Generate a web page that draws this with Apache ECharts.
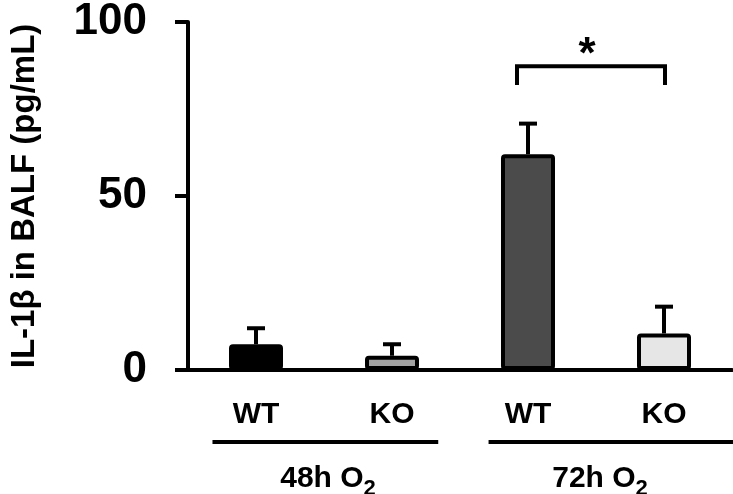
<!DOCTYPE html>
<html><head><meta charset="utf-8">
<script src="https://cdn.jsdelivr.net/npm/echarts@6/dist/echarts.min.js"></script>
<style>html,body{margin:0;padding:0;background:#fff}#c{width:733px;height:494px}</style>
</head><body><div id="c"></div>
<script>
// ---- data ----
const categories = ['WT', 'KO', 'WT', 'KO'];
const means = [7.4, 4.1, 62.0, 10.5];
const errors = [4.6, 3.3, 8.8, 7.7];
const barColors = ['#000000', '#a3a3a3', '#4b4b4b', '#e6e6e6'];
const groupStart = [0, 2];
const groupEnd = [1, 3];
const groupLabels = ['48h O', '72h O'];
const groupSub = ['2', '2'];
const sigFrom = 2, sigTo = 3, sigTop = 87.3, sigLeg = 81.9, sigMark = '*';
const yMin = 0, yMax = 100, yStep = 50;
const yTitle = 'IL-1β in BALF (pg/mL)';

const FONT = '"Liberation Sans", Arial, sans-serif';
const chart = echarts.init(document.getElementById('c'), null, {renderer: 'canvas'});

const option = {
  animation: false,
  backgroundColor: '#ffffff',
  grid: {left: 173, right: 1, top: 15, bottom: 124, containLabel: false},
  xAxis: {
    type: 'category',
    data: categories,
    axisLine: {lineStyle: {color: '#000', width: 4}},
    axisTick: {show: false},
    axisLabel: {color: '#000', fontSize: 30, fontWeight: 'bold', fontFamily: FONT, margin: 30}
  },
  yAxis: {
    type: 'value', min: yMin, max: yMax, interval: yStep,
    name: yTitle, nameLocation: 'middle', nameGap: 147,
    nameTextStyle: {color: '#000', fontSize: 33, fontWeight: 'bold', fontFamily: FONT},
    axisLine: {show: true, lineStyle: {color: '#000', width: 4}},
    axisTick: {show: true, length: 13, lineStyle: {color: '#000', width: 4}},
    axisLabel: {color: '#000', fontSize: 44, fontWeight: 'bold', fontFamily: FONT, margin: 41},
    splitLine: {show: false}
  },
  series: [
    {
      type: 'custom',
      z: 1,
      clip: false,
      encode: {x: 0, y: [1, 2]},
      data: means.map((m, i) => [i, m, m + errors[i]]),
      renderItem: function (params, api) {
        const top = api.coord([api.value(0), api.value(2)]);
        const base = api.coord([api.value(0), api.value(1)]);
        const st = {stroke: '#000', lineWidth: 4};
        return {type: 'group', children: [
          {type: 'line', shape: {x1: top[0], y1: base[1], x2: top[0], y2: top[1]}, style: st},
          {type: 'line', shape: {x1: top[0] - 9, y1: top[1], x2: top[0] + 9, y2: top[1]}, style: st}
        ]};
      }
    },
    {
      type: 'bar',
      z: 2,
      barWidth: 54,
      data: means.map((m, i) => ({value: m, itemStyle: {color: barColors[i]}})),
      itemStyle: {borderColor: '#000', borderWidth: 4, borderRadius: 2}
    },
    {
      type: 'custom',
      z: 3,
      clip: false,
      encode: {x: [0, 1], y: [2, 3]},
      data: [[sigFrom, sigTo, sigTop, sigLeg]],
      renderItem: function (params, api) {
        const a = api.coord([api.value(0), api.value(2)]);
        const b = api.coord([api.value(1), api.value(2)]);
        const leg = api.coord([api.value(0), api.value(3)]);
        const x1 = a[0] - 11, x2 = b[0] + 1;
        const st = {stroke: '#000', lineWidth: 4, fill: null, lineJoin: 'miter'};
        return {type: 'group', children: [
          {type: 'polyline', shape: {points: [[x1, leg[1]], [x1, a[1]], [x2, a[1]], [x2, leg[1]]]}, style: st},
          {type: 'text', style: {text: sigMark, x: (x1 + x2) / 2 - 4, y: a[1] - 10, align: 'center', verticalAlign: 'middle',
            fill: '#000', font: 'bold 44px ' + FONT}}
        ]};
      }
    },
    {
      type: 'custom',
      z: 3,
      clip: false,
      encode: {x: [0, 1], y: 2},
      data: groupStart.map((s, i) => [s, groupEnd[i], 0, i]),
      renderItem: function (params, api) {
        const i = api.value(3);
        const p1 = api.coord([api.value(0), 0]);
        const p2 = api.coord([api.value(1), 0]);
        const band = api.size([1, 0])[0];
        const x1 = p1[0] - band * (i === 0 ? 0.32 : 0.29);
        const x2 = p2[0] + band * (i === 0 ? 0.34 : 0.52);
        const y = p1[1] + 72;
        return {type: 'group', children: [
          {type: 'line', shape: {x1: x1, y1: y, x2: x2, y2: y}, style: {stroke: '#000', lineWidth: 4}},
          {type: 'text', style: {
            text: '{a|' + groupLabels[i] + '}{b|' + groupSub[i] + '}',
            x: (p1[0] + p2[0]) / 2 + 4, y: y + 37, align: 'center', verticalAlign: 'middle',
            rich: {
              a: {fontSize: 30, fontWeight: 'bold', fontFamily: FONT, fill: '#000', lineHeight: 42, verticalAlign: 'middle'},
              b: {fontSize: 22, fontWeight: 'bold', fontFamily: FONT, fill: '#000', lineHeight: 42, verticalAlign: 'bottom'}
            }
          }}
        ]};
      }
    }
  ]
};
chart.setOption(option);
</script>
</body></html>
